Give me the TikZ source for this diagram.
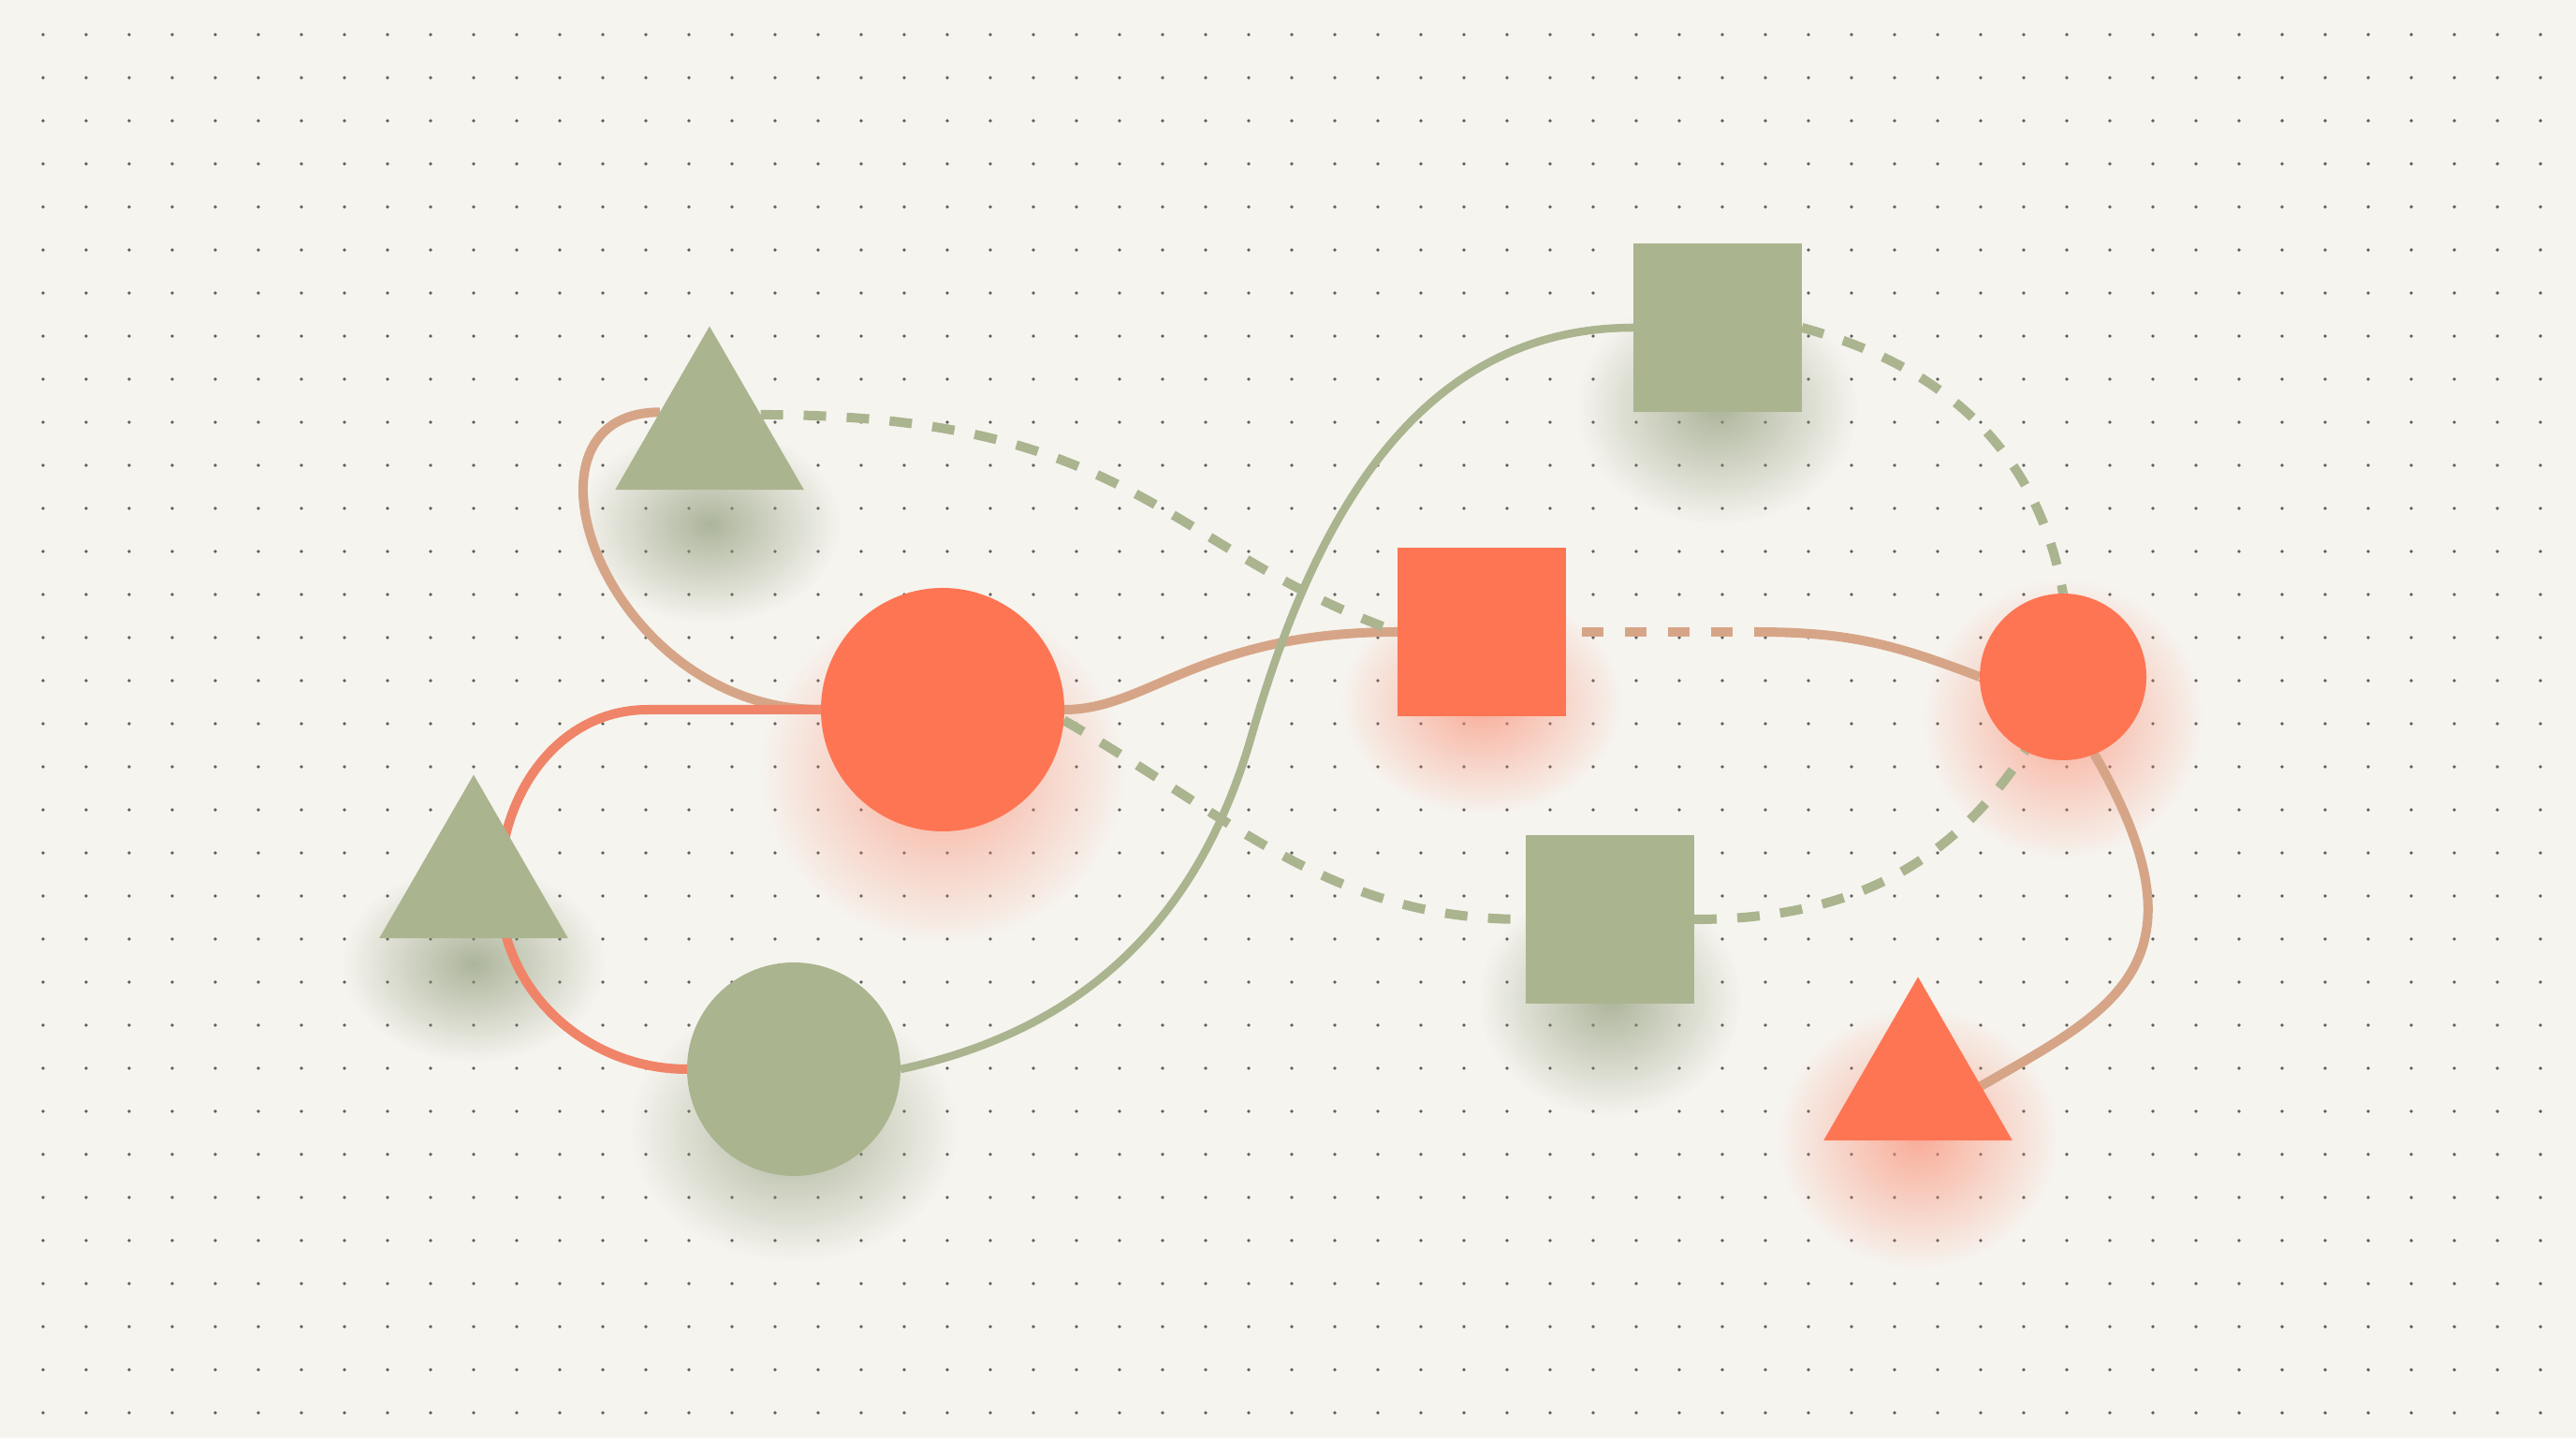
\documentclass[tikz,border=0pt]{standalone}
\usepackage{tikz}
\usetikzlibrary{shapes.geometric,fadings}

\definecolor{paper}{HTML}{F6F4EF}
\definecolor{dotgray}{HTML}{5F5E58}
\definecolor{sage}{HTML}{AAB48F}
\definecolor{coral}{HTML}{FE7553}
\definecolor{tan}{HTML}{D6A587}
\definecolor{salmon}{HTML}{F08468}
\definecolor{sageshade}{HTML}{8E9A78}
\definecolor{coralshade}{HTML}{FB8E74}

\pgfdeclarelayer{back}
\pgfdeclarelayer{links}
\pgfsetlayers{back,links,main}

\tikzfading[name=glow, inner color=transparent!30, outer color=transparent!100]

\tikzset{
  block/.style={rectangle, minimum size=1.8cm, inner sep=0pt, outer sep=0pt},
  disc/.style={circle, inner sep=0pt, outer sep=0pt},
  tri/.style={regular polygon, regular polygon sides=3, minimum size=2.33cm, inner sep=0pt, outer sep=0pt},
  glowshadow/.style={path fading=glow},
  tanline/.style={draw=tan, line width=1mm},
  coralline/.style={draw=salmon, line width=1mm},
  sageline/.style={draw=sage, line width=0.85mm},
  sagedash/.style={draw=sage, line width=1mm, dash pattern=on 2.4mm off 2.2mm},
  tandash/.style={draw=tan, line width=1mm, dash pattern=on 2.3mm off 2.3mm, dash phase=2.9mm}
}

\begin{document}
\begin{tikzpicture}
\useasboundingbox (0,0) rectangle (27.52,15.36);

\node [tri, fill=sage] (triA) at (7.58,10.71) {};
\node [disc, fill=coral, minimum size=2.6cm] (circA) at (10.07,7.78) {};
\node [block, fill=coral] (sqA) at (15.83,8.61) {};
\node [block, fill=sage] (sqB) at (18.35,11.86) {};
\node [disc, fill=coral, minimum size=1.78cm] (circB) at (22.04,8.13) {};
\node [block, fill=sage] (sqC) at (17.20,5.54) {};
\node [tri, fill=coral] (triB) at (20.49,3.76) {};
\node [tri, fill=sage] (triC) at (5.06,5.92) {};
\node [disc, fill=sage, minimum size=2.28cm] (circC) at (8.48,3.94) {};

\begin{pgfonlayer}{back}
\fill [paper] (0,0) rectangle (27.52,15.36);
\foreach \i in {1,...,59}
  \foreach \j in {0,...,32}
    \fill [dotgray] (0.46*\i,14.99-0.46*\j) circle (0.019);
\fill [sageshade, glowshadow] ([yshift=-9.5mm]triA.center) ellipse (1.4 and 1.05);
\fill [coralshade, glowshadow] ([yshift=-6.5mm]circA.center) ellipse (1.95 and 1.85);
\fill [coralshade, glowshadow] ([yshift=-7.5mm]sqA.center) ellipse (1.5 and 1.2);
\fill [sageshade, glowshadow] ([yshift=-8.5mm]sqB.center) ellipse (1.5 and 1.25);
\fill [sageshade, glowshadow] ([yshift=-8.5mm]sqC.center) ellipse (1.4 and 1.25);
\fill [coralshade, glowshadow] ([yshift=-4.5mm]circB.center) ellipse (1.5 and 1.5);
\fill [coralshade, glowshadow] ([yshift=-5.5mm]triB.center) ellipse (1.5 and 1.4);
\fill [sageshade, glowshadow] ([yshift=-6.5mm]circC.center) ellipse (1.75 and 1.4);
\fill [sageshade, glowshadow] ([yshift=-8.5mm]triC.center) ellipse (1.4 and 1.05);
\end{pgfonlayer}

\begin{pgfonlayer}{links}
\draw [tanline] (triA.155) .. controls +(-1.7,0) and +(-2.3,0) .. (circA.west);
\draw [coralline] (circA.west) -- ++(-1.85,0) to[out=180,in=90] ([xshift=2.8mm]triC.center)
  to[out=-92,in=180] (circC.west);
\draw [tanline] (circA.east) .. controls +(0.9,0) and +(-2.1,0) .. (sqA.west);
\draw [sagedash] (triA.22) .. controls +(4,0) and +(-2.5,0.9) .. (sqA.west);
\draw [sageline] (circC.east) to[out=12,in=-106] (13.37,7.5) to[out=74,in=180] (sqB.west);
\draw [sagedash] (sqB.east) .. controls +(-15:1.56) and +(100:1.56) .. (circB.north);
\coordinate (tanbreak) at ([xshift=2.01cm]sqA.east);
\draw [tandash] (sqA.east) -- (tanbreak);
\draw [tanline] (tanbreak) .. controls +(1,0) and +(159:1) .. (circB.west);
\draw [sagedash] (circA.-5) to[out=-30,in=180] (sqC.west);
\draw [sagedash] (sqC.east) to[out=0,in=237] (circB.243);
\draw [tanline] (circB.-68) .. controls +(-60:2.6) and +(30:1.6) .. (triB.0);
\end{pgfonlayer}
\end{tikzpicture}
\end{document}
